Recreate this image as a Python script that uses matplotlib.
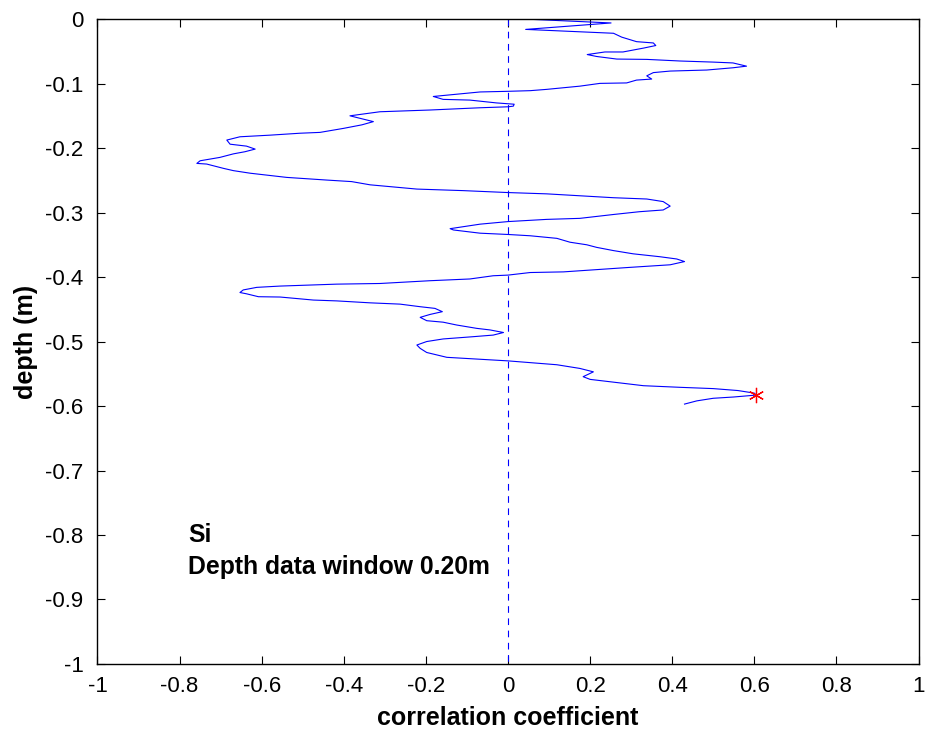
import numpy as np
import matplotlib
matplotlib.use("Agg")
import matplotlib.pyplot as plt

plt.rcParams['font.family'] = ['Liberation Sans', 'DejaVu Sans']

# correlation coefficient vs depth (top to bottom)
corr = [0.043, 0.251, 0.043, 0.257, 0.277, 0.313, 0.354, 0.36, 0.33, 0.28,
        0.236, 0.193, 0.216, 0.265, 0.338, 0.419, 0.5, 0.548, 0.581, 0.548,
        0.484, 0.395, 0.354, 0.338, 0.35, 0.313, 0.289, 0.224, 0.175, 0.143,
        0.094, 0.054, 0.0, -0.068, -0.182, -0.158, -0.093, -0.028, 0.015, 0.013,
        0.0, -0.068, -0.19, -0.312, -0.385, -0.328, -0.356, -0.401, -0.458, -0.507,
        -0.58, -0.653, -0.685, -0.677, -0.637, -0.616, -0.641, -0.669, -0.702, -0.75,
        -0.758, -0.734, -0.693, -0.669, -0.628, -0.539, -0.442, -0.381, -0.336, -0.222,
        -0.109, 0.0, 0.094, 0.175, 0.257, 0.338, 0.378, 0.395, 0.378, 0.32,
        0.257, 0.175, 0.094, 0.0, -0.068, -0.141, -0.133, -0.068, 0.0, 0.054,
        0.119, 0.151, 0.192, 0.216, 0.257, 0.305, 0.37, 0.411, 0.43, 0.395,
        0.297, 0.135, 0.054, 0.0, -0.036, -0.093, -0.19, -0.312, -0.417, -0.555,
        -0.612, -0.645, -0.653, -0.637, -0.608, -0.555, -0.474, -0.417, -0.336, -0.263,
        -0.214, -0.178, -0.16, -0.19, -0.214, -0.198, -0.158, -0.125, -0.076, -0.044,
        -0.011, -0.036, -0.085, -0.158, -0.198, -0.222, -0.214, -0.198, -0.149, -0.109,
        -0.036, 0.0, 0.119, 0.175, 0.208, 0.183, 0.2, 0.248, 0.33, 0.419,
        0.5, 0.56, 0.6, 0.605, 0.55, 0.5, 0.46, 0.43]
depth = [0.0, -0.006, -0.016, -0.022, -0.028, -0.035, -0.037, -0.041, -0.045, -0.051,
         -0.051, -0.055, -0.058, -0.062, -0.0625, -0.065, -0.0667, -0.068, -0.073, -0.0755,
         -0.079, -0.0806, -0.083, -0.088, -0.093, -0.0946, -0.099, -0.0997, -0.104, -0.106,
         -0.109, -0.111, -0.112, -0.113, -0.12, -0.1245, -0.1256, -0.13, -0.132, -0.135,
         -0.136, -0.1375, -0.141, -0.1437, -0.15, -0.159, -0.164, -0.1695, -0.1757, -0.177,
         -0.18, -0.1825, -0.1876, -0.194, -0.197, -0.2016, -0.2057, -0.209, -0.2145, -0.2197,
         -0.2238, -0.2248, -0.2315, -0.235, -0.239, -0.2455, -0.2496, -0.252, -0.257, -0.2636,
         -0.266, -0.269, -0.271, -0.274, -0.277, -0.279, -0.283, -0.29, -0.296, -0.2987,
         -0.303, -0.309, -0.3106, -0.314, -0.318, -0.325, -0.327, -0.332, -0.334, -0.336,
         -0.34, -0.346, -0.35, -0.354, -0.359, -0.364, -0.3685, -0.372, -0.376, -0.381,
         -0.385, -0.392, -0.393, -0.397, -0.398, -0.403, -0.4057, -0.41, -0.411, -0.414,
         -0.416, -0.42, -0.424, -0.426, -0.4305, -0.431, -0.4357, -0.437, -0.44, -0.442,
         -0.446, -0.4486, -0.4537, -0.458, -0.4625, -0.4677, -0.47, -0.4744, -0.4796, -0.482,
         -0.486, -0.49, -0.4925, -0.496, -0.5, -0.5054, -0.5106, -0.517, -0.5245, -0.526,
         -0.5287, -0.53, -0.536, -0.5417, -0.547, -0.5545, -0.5587, -0.5623, -0.5685, -0.571,
         -0.573, -0.576, -0.58, -0.583, -0.586, -0.588, -0.592, -0.597]

# best correlation
best_corr = 0.605
best_depth = -0.583

element = "Si"
window_text = "Depth data window 0.20m"

xticks = np.round(np.arange(-1, 1.01, 0.2), 1)
yticks = np.round(np.arange(-1, 0.01, 0.1), 1)


def fmt(v):
    return "0" if abs(v) < 1e-9 else f"{v:g}"


fig = plt.figure(figsize=(9.25, 7.34), dpi=100)
ax = fig.add_axes([0.1054, 0.0954, 0.8876, 0.8786])

ax.plot(corr, depth, color='#0000FF', linewidth=0.8)
ax.plot([0, 0], [0, -1], color='#0000FF', linewidth=0.8, linestyle=(0, (6, 5)))
ax.plot(best_corr, best_depth, marker=(6, 2, 0), color='red', markersize=11,
        markeredgewidth=0.9, linestyle='none')

ax.text(-0.78, -0.80, element, fontsize=17.8, fontweight='bold', va='center')
ax.text(-0.78, -0.849, window_text, fontsize=17.8, fontweight='bold', va='center')

ax.set_xlim(-1, 1)
ax.set_ylim(-1, 0)
ax.set_xticks(xticks)
ax.set_yticks(yticks)
ax.set_xticklabels([fmt(v) for v in xticks])
ax.set_yticklabels([fmt(v) for v in yticks])
ax.tick_params(direction='in', length=6, width=0.8, labelsize=16,
               top=True, right=True)
ax.tick_params(axis='x', pad=9)
ax.tick_params(axis='y', pad=10)
for s in ax.spines.values():
    s.set_linewidth(1.0)

ax.set_xlabel("correlation coefficient", fontsize=18, fontweight='bold', labelpad=6)
ax.set_ylabel("depth (m)", fontsize=18, fontweight='bold', labelpad=5)

fig.savefig("out.png", dpi=100)
